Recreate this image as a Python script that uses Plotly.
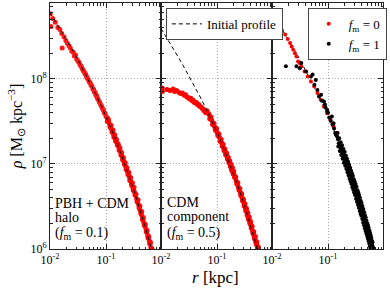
import plotly.graph_objects as go

# ---------------- data ----------------
# Initial profile (dashed), panels 1 and 3
r_init = [0.01, 0.0126, 0.0158, 0.02, 0.0251, 0.0316, 0.0398, 0.0501, 0.0631, 0.0794,
          0.1, 0.126, 0.158, 0.2, 0.251, 0.316, 0.398, 0.501, 0.631, 0.708, 0.8]
rho_init = [6.0e8, 4.69e8, 3.65e8, 2.82e8, 2.17e8, 1.66e8, 1.25e8, 9.4e7, 6.93e7, 5.04e7,
            3.61e7, 2.52e7, 1.73e7, 1.16e7, 7.55e6, 4.80e6, 2.97e6, 1.79e6, 1.05e6, 8.0e5, 6.0e5]
# Initial profile of the CDM component (panel 2)
rho_init_cdm = [3.9e8, 3.05e8, 2.37e8, 1.83e8, 1.41e8, 1.08e8, 8.1e7, 6.1e7, 4.5e7, 3.28e7,
                2.35e7, 1.64e7, 1.12e7, 7.5e6, 4.9e6, 3.12e6, 1.93e6, 1.16e6, 6.8e5, 5.2e5, 3.9e5]

# Panel 1: PBH + CDM halo (f_m = 0.1)
r_p1_a = [0.0101, 0.0104, 0.0112, 0.0124, 0.0138, 0.015, 0.0162, 0.0165, 0.0178, 0.0192,
          0.0205, 0.0218, 0.023, 0.0245, 0.026, 0.0272, 0.0285, 0.03, 0.0315, 0.033,
          0.0345, 0.036, 0.0375, 0.039, 0.0405, 0.042, 0.0435, 0.045, 0.0465, 0.048,
          0.05, 0.052, 0.054, 0.056, 0.058, 0.06, 0.062, 0.064, 0.066, 0.068,
          0.07, 0.072, 0.075, 0.078, 0.081, 0.084, 0.087, 0.09, 0.093, 0.096,
          0.1, 0.104, 0.108, 0.112, 0.116, 0.12, 0.125, 0.13, 0.135, 0.14,
          0.145, 0.15, 0.156, 0.162, 0.168, 0.174, 0.18, 0.187, 0.194, 0.2,
          0.208, 0.216, 0.224, 0.232, 0.24, 0.25, 0.26, 0.27, 0.28, 0.29,
          0.3, 0.31, 0.32, 0.335, 0.35, 0.365, 0.38, 0.395, 0.41, 0.425,
          0.44, 0.455, 0.47, 0.49, 0.51, 0.53, 0.55, 0.57, 0.59, 0.61, 0.63, 0.65]
rho_p1_a = [5.8e8, 4.1e8, 5.1e8, 4.6e8, 4.0e8, 3.8e8, 3.4e8, 2.3e8, 3.1e8, 2.8e8,
            2.6e8, 2.45e8, 2.3e8, 2.1e8, 2.05e8, 1.85e8, 1.9e8, 1.7e8, 1.62e8, 1.55e8,
            1.45e8, 1.4e8, 1.32e8, 1.25e8, 1.22e8, 1.15e8, 1.12e8, 1.05e8, 1.02e8, 9.8e7,
            9.2e7, 9.0e7, 8.4e7, 8.2e7, 7.6e7, 7.5e7, 7.0e7, 6.9e7, 6.4e7, 6.3e7,
            5.9e7, 5.8e7, 5.4e7, 5.2e7, 4.9e7, 4.7e7, 4.4e7, 4.3e7, 4.0e7, 3.9e7,
            3.6e7, 3.5e7, 3.25e7, 3.1e7, 2.9e7, 2.75e7, 2.55e7, 2.4e7, 2.25e7, 2.1e7,
            2.0e7, 1.9e7, 1.78e7, 1.68e7, 1.58e7, 1.48e7, 1.4e7, 1.3e7, 1.22e7, 1.16e7,
            1.07e7, 1.0e7, 9.3e6, 8.7e6, 8.2e6, 7.6e6, 7.0e6, 6.5e6, 6.1e6, 5.7e6,
            5.3e6, 4.95e6, 4.7e6, 4.3e6, 3.9e6, 3.6e6, 3.3e6, 3.0e6, 2.8e6, 2.6e6,
            2.4e6, 2.2e6, 2.05e6, 1.9e6, 1.75e6, 1.6e6, 1.45e6, 1.35e6, 1.25e6, 1.15e6, 1.05e6, 9.8e5]
r_p1_b = [0.105, 0.11, 0.118, 0.123, 0.128, 0.133, 0.138, 0.143, 0.148, 0.153,
          0.159, 0.165, 0.171, 0.177, 0.184, 0.19, 0.197, 0.204, 0.212, 0.22,
          0.228, 0.236, 0.245, 0.255, 0.265, 0.275, 0.285, 0.295, 0.305, 0.315,
          0.328, 0.342, 0.357, 0.372, 0.388, 0.402, 0.418, 0.432, 0.448, 0.462,
          0.48, 0.5, 0.52, 0.54, 0.56, 0.58, 0.6, 0.62, 0.64, 0.66]
rho_p1_b = [3.15e7, 3.35e7, 2.7e7, 2.85e7, 2.35e7, 2.5e7, 2.05e7, 2.2e7, 1.85e7, 1.95e7,
            1.65e7, 1.7e7, 1.45e7, 1.55e7, 1.27e7, 1.35e7, 1.12e7, 1.18e7, 9.9e6, 1.03e7,
            8.6e6, 9.0e6, 7.5e6, 7.9e6, 6.4e6, 6.9e6, 5.6e6, 6.0e6, 4.9e6, 5.3e6,
            4.3e6, 4.4e6, 3.6e6, 3.8e6, 3.05e6, 3.2e6, 2.6e6, 2.75e6, 2.2e6, 2.35e6,
            1.9e6, 1.95e6, 1.6e6, 1.65e6, 1.35e6, 1.4e6, 1.15e6, 1.2e6, 9.9e5, 1.0e6]

# Panel 2: CDM component (f_m = 0.5)
r_p2_a = [0.0105, 0.0106, 0.0128, 0.0145, 0.0165, 0.0175, 0.019, 0.021, 0.0225, 0.024,
          0.026, 0.0275, 0.029, 0.031, 0.0325, 0.034, 0.036, 0.0375, 0.039, 0.041,
          0.043, 0.045, 0.047, 0.049, 0.051, 0.053, 0.055, 0.057, 0.059, 0.061, 0.063,
          0.066, 0.069, 0.072, 0.076, 0.08, 0.085, 0.09, 0.095, 0.1, 0.105,
          0.11, 0.115, 0.12, 0.125, 0.13, 0.135, 0.14, 0.145, 0.15, 0.155,
          0.16, 0.165, 0.17, 0.175, 0.18, 0.185, 0.19, 0.195, 0.2, 0.21,
          0.22, 0.23, 0.24, 0.25, 0.26, 0.27, 0.28, 0.29, 0.3, 0.31,
          0.32, 0.33, 0.34, 0.35, 0.36, 0.37, 0.38, 0.39, 0.4, 0.415,
          0.43, 0.445, 0.46, 0.475, 0.49, 0.505, 0.52, 0.535, 0.55]
rho_p2_a = [7.8e7, 7.1e7, 7.5e7, 7.3e7, 7.6e7, 7.1e7, 7.3e7, 6.9e7, 6.7e7, 6.8e7,
            6.4e7, 6.5e7, 6.1e7, 6.0e7, 5.8e7, 5.9e7, 5.5e7, 5.6e7, 5.3e7, 5.2e7,
            5.25e7, 4.95e7, 5.0e7, 4.75e7, 4.7e7, 4.6e7, 4.45e7, 4.35e7, 4.2e7, 4.15e7, 4.0e7,
            4.2e7, 3.95e7, 3.8e7, 3.5e7, 3.25e7, 2.95e7, 2.75e7, 2.55e7, 2.35e7, 2.2e7,
            2.05e7, 1.9e7, 1.78e7, 1.66e7, 1.56e7, 1.47e7, 1.38e7, 1.3e7, 1.23e7, 1.17e7,
            1.11e7, 1.05e7, 1.0e7, 9.5e6, 9.0e6, 8.6e6, 8.2e6, 7.85e6, 7.5e6, 6.9e6,
            6.3e6, 5.8e6, 5.35e6, 4.95e6, 4.6e6, 4.28e6, 3.97e6, 3.7e6, 3.47e6, 3.25e6,
            3.05e6, 2.87e6, 2.69e6, 2.54e6, 2.39e6, 2.26e6, 2.13e6, 2.02e6, 1.91e6, 1.77e6,
            1.63e6, 1.51e6, 1.4e6, 1.31e6, 1.22e6, 1.14e6, 1.07e6, 1.0e6, 9.4e5]
r_p2_b = [0.074, 0.078, 0.083, 0.088, 0.093, 0.098, 0.103, 0.108, 0.113, 0.118,
          0.123, 0.128, 0.133, 0.138, 0.143, 0.148, 0.153, 0.158, 0.163, 0.168,
          0.173, 0.178, 0.183, 0.188, 0.193, 0.198, 0.205, 0.215, 0.225, 0.235,
          0.245, 0.255, 0.265, 0.275, 0.285, 0.295, 0.305, 0.315, 0.325, 0.335,
          0.345, 0.355, 0.365, 0.375, 0.385, 0.395, 0.408, 0.422, 0.437, 0.452,
          0.467, 0.482, 0.498, 0.512, 0.528, 0.542, 0.56]
rho_p2_b = [3.4e7, 3.55e7, 2.9e7, 3.0e7, 2.5e7, 2.6e7, 2.15e7, 2.25e7, 1.85e7, 1.95e7,
            1.62e7, 1.7e7, 1.44e7, 1.5e7, 1.27e7, 1.34e7, 1.14e7, 1.2e7, 1.03e7, 1.09e7,
            9.3e6, 9.9e6, 8.4e6, 9.0e6, 7.65e6, 8.2e6, 6.95e6, 7.0e6, 5.8e6, 6.0e6,
            4.95e6, 5.1e6, 4.25e6, 4.45e6, 3.7e6, 3.85e6, 3.2e6, 3.4e6, 2.82e6, 3.0e6,
            2.5e6, 2.65e6, 2.22e6, 2.38e6, 2.0e6, 2.1e6, 1.75e6, 1.85e6, 1.52e6, 1.6e6,
            1.32e6, 1.4e6, 1.15e6, 1.22e6, 1.0e6, 1.06e6, 8.9e5]

# Panel 3: f_m = 0 (red) and f_m = 1 (black)
r_p3_red = [0.0113, 0.0141, 0.0151, 0.0172, 0.0191, 0.021, 0.0224, 0.0239, 0.0256, 0.0273,
            0.0292, 0.0312, 0.0333, 0.038, 0.0435, 0.0495, 0.0566, 0.0646, 0.0738, 0.0843,
            0.0962, 0.1097, 0.1253, 0.143, 0.163, 0.17, 0.18, 0.19, 0.2, 0.22,
            0.24, 0.26, 0.28, 0.3, 0.32, 0.34, 0.36, 0.38, 0.4, 0.43,
            0.46, 0.49, 0.52, 0.55, 0.58, 0.61, 0.64]
rho_p3_red = [4.85e8, 3.84e8, 3.7e8, 3.3e8, 2.93e8, 2.63e8, 2.4e8, 2.19e8, 2.0e8, 1.83e8,
              1.6e8, 1.53e8, 1.4e8, 1.22e8, 1.06e8, 9.3e7, 8.1e7, 6.8e7, 5.66e7, 4.72e7,
              3.94e7, 3.3e7, 2.75e7, 2.3e7, 1.75e7, 1.5e7, 1.38e7, 1.25e7, 1.14e7, 9.6e6,
              8.1e6, 7.0e6, 6.1e6, 5.3e6, 4.7e6, 4.1e6, 3.65e6, 3.25e6, 2.9e6, 2.5e6,
              2.15e6, 1.85e6, 1.62e6, 1.43e6, 1.27e6, 1.13e6, 1.0e6]
r_p3_blk_upper = [0.0177, 0.0273, 0.0313, 0.0333, 0.0406, 0.0495, 0.053, 0.057, 0.0605, 0.0646,
                  0.069, 0.075, 0.078, 0.0843, 0.088, 0.09, 0.0962, 0.1, 0.105, 0.112,
                  0.117, 0.12, 0.1253, 0.128, 0.134, 0.138, 0.145]
rho_p3_blk_upper = [1.4e8, 1.4e8, 1.33e8, 1.53e8, 1.22e8, 1.06e8, 1.12e8, 8.5e7, 9.7e7, 7.4e7,
                    6.2e7, 6.5e7, 5.5e7, 5.4e7, 5.0e7, 4.6e7, 4.3e7, 4.0e7, 3.5e7, 3.2e7,
                    3.6e7, 2.9e7, 3.0e7, 2.6e7, 2.3e7, 2.2e7, 2.1e7]
r_p3_blk_mid = [0.15, 0.155, 0.16, 0.165, 0.17, 0.175, 0.18, 0.185, 0.19, 0.195,
                0.2, 0.21, 0.22, 0.23, 0.24, 0.25, 0.26, 0.27, 0.28, 0.29,
                0.3, 0.31, 0.32, 0.33, 0.34, 0.35, 0.36, 0.37, 0.38, 0.39,
                0.4, 0.415, 0.43, 0.445, 0.46, 0.475, 0.49, 0.505, 0.52, 0.535,
                0.55, 0.565, 0.58, 0.595, 0.61, 0.625, 0.64]
rho_p3_blk_mid = [1.95e7, 1.75e7, 1.72e7, 1.6e7, 1.5e7, 1.48e7, 1.36e7, 1.33e7, 1.25e7, 1.22e7,
                  1.12e7, 1.05e7, 9.8e6, 8.8e6, 8.3e6, 7.5e6, 7.1e6, 6.5e6, 6.2e6, 5.6e6,
                  5.4e6, 4.9e6, 4.7e6, 4.35e6, 4.1e6, 3.9e6, 3.65e6, 3.45e6, 3.25e6, 3.1e6,
                  2.9e6, 2.75e6, 2.5e6, 2.35e6, 2.15e6, 2.0e6, 1.9e6, 1.75e6, 1.65e6, 1.55e6,
                  1.45e6, 1.35e6, 1.28e6, 1.2e6, 1.13e6, 1.07e6, 1.02e6]
r_p3_blk_hi = [0.148, 0.158, 0.168, 0.178, 0.188, 0.198, 0.208, 0.218, 0.228, 0.238,
               0.248, 0.258, 0.268, 0.278, 0.288, 0.298, 0.31, 0.322, 0.334, 0.346,
               0.358, 0.37, 0.382, 0.395, 0.41, 0.425, 0.44, 0.455, 0.47, 0.485,
               0.5, 0.515, 0.53, 0.545, 0.56, 0.575, 0.59, 0.605, 0.62]
rho_p3_blk_hi = [2.3e7, 2.0e7, 1.8e7, 1.65e7, 1.5e7, 1.38e7, 1.25e7, 1.15e7, 1.06e7, 9.8e6,
                 9.0e6, 8.3e6, 7.7e6, 7.2e6, 6.6e6, 6.2e6, 5.8e6, 5.4e6, 4.9e6, 4.6e6,
                 4.3e6, 4.0e6, 3.7e6, 3.5e6, 3.2e6, 2.95e6, 2.7e6, 2.5e6, 2.35e6, 2.15e6,
                 2.0e6, 1.9e6, 1.78e6, 1.65e6, 1.55e6, 1.45e6, 1.36e6, 1.25e6, 1.2e6]
r_p3_blk_lo = [0.152, 0.162, 0.172, 0.182, 0.192, 0.202, 0.212, 0.222, 0.232, 0.242,
               0.252, 0.262, 0.272, 0.282, 0.292, 0.302, 0.315, 0.328, 0.341, 0.354,
               0.367, 0.38, 0.393, 0.408, 0.423, 0.438, 0.453, 0.468, 0.483, 0.498,
               0.513, 0.528, 0.543, 0.558, 0.573, 0.59]
rho_p3_blk_lo = [1.6e7, 1.42e7, 1.27e7, 1.15e7, 1.03e7, 9.5e6, 8.7e6, 8.0e6, 7.3e6, 6.7e6,
                 6.2e6, 5.8e6, 5.3e6, 4.95e6, 4.6e6, 4.3e6, 3.9e6, 3.6e6, 3.3e6, 3.05e6,
                 2.8e6, 2.6e6, 2.45e6, 2.25e6, 2.05e6, 1.9e6, 1.75e6, 1.63e6, 1.52e6, 1.42e6,
                 1.33e6, 1.24e6, 1.16e6, 1.08e6, 1.02e6, 9.6e5]

panel_text_1 = ["PBH + CDM", "halo", "(<i>f</i><sub>m</sub> = 0.1)"]
panel_text_2 = ["CDM", "component", "(<i>f</i><sub>m</sub> = 0.5)"]
x_ticks = [0.01, 0.1]
x_ticktext = ["10<sup>-2</sup>", "10<sup>-1</sup>"]
y_ticks = [1e6, 1e7, 1e8]
y_ticktext = ["10<sup>6</sup>", "10<sup>7</sup>", "10<sup>8</sup>"]

# ---------------- figure ----------------
FONT = "Liberation Serif, Times New Roman, serif"
RED = "#ff0000"
fig = go.Figure()

def scat(x, y, xa, ya, color, size, name=None, legend=None, show=False, opacity=1.0):
    fig.add_trace(go.Scatter(x=x, y=y, xaxis=xa, yaxis=ya, mode="markers",
                             marker=dict(color=color, size=size, line=dict(width=0)),
                             opacity=opacity, name=name, showlegend=show,
                             legend=legend))

def dashed(x, y, xa, ya, show=False):
    fig.add_trace(go.Scatter(x=x, y=y, xaxis=xa, yaxis=ya, mode="lines",
                             line=dict(color="black", width=1, dash="4px,3px"),
                             name="Initial profile", showlegend=show, legend="legend"))

# panel 1
scat(r_p1_a, rho_p1_a, "x", "y", RED, 5, opacity=0.9)
scat(r_p1_b, rho_p1_b, "x", "y", RED, 5, opacity=0.9)
dashed(r_init, rho_init, "x", "y")
# panel 2
scat(r_p2_a, rho_p2_a, "x2", "y2", RED, 5)
scat(r_p2_b, rho_p2_b, "x2", "y2", RED, 5)
dashed(r_init, rho_init_cdm, "x2", "y2", show=True)
# panel 3
dashed(r_init, rho_init, "x3", "y3")
scat(r_p3_red, rho_p3_red, "x3", "y3", RED, 4, name="<i>f</i><sub>m</sub> = 0",
     legend="legend2", show=True)
scat(r_p3_blk_upper + r_p3_blk_mid + r_p3_blk_hi + r_p3_blk_lo,
     rho_p3_blk_upper + rho_p3_blk_mid + rho_p3_blk_hi + rho_p3_blk_lo,
     "x3", "y3", "black", 4, name="<i>f</i><sub>m</sub> = 1", legend="legend2", show=True)

AX = "#222222"
tickfont = dict(family=FONT, size=12, color="black")
W = 1.0 / 3.0
doms = [[0, W], [W, 2 * W], [2 * W, 1]]
for i, d in enumerate(doms):
    sfx = "" if i == 0 else str(i + 1)
    fig.layout["xaxis" + sfx] = dict(
        domain=d, anchor="y" + sfx, type="log", range=[-2, -0.02],
        tickvals=x_ticks, ticktext=x_ticktext, tickfont=tickfont,
        ticks="inside", ticklen=5, tickcolor=AX, showline=True, linecolor=AX,
        linewidth=1, mirror="allticks", showgrid=True, gridcolor="#a8a8a8",
        griddash="1px,2px", gridwidth=1, zeroline=False,
        minor=dict(ticks="inside", ticklen=2.5, tickcolor=AX, dtick="D1", showgrid=False),
    )
    fig.layout["yaxis" + sfx] = dict(
        domain=[0, 1], anchor="x" + sfx, type="log", range=[6, 8.89],
        matches=None if i == 0 else "y",
        tickvals=y_ticks, ticktext=y_ticktext, tickfont=tickfont,
        showticklabels=(i == 0),
        ticks="inside", ticklen=5, tickcolor=AX, showline=True, linecolor=AX,
        linewidth=1, mirror="allticks", showgrid=True, gridcolor="#a8a8a8",
        griddash="1px,2px", gridwidth=1, zeroline=False,
        minor=dict(ticks="inside", ticklen=2.5, tickcolor=AX, dtick="D1", showgrid=False),
    )

ann_font = dict(family=FONT, size=14, color="black")
ys = [0.185, 0.128, 0.062]
for t, yy in zip(panel_text_1, ys):
    fig.add_annotation(text=t, xref="x domain", yref="y domain", x=0.03, y=yy,
                       xanchor="left", yanchor="middle", showarrow=False, font=ann_font)
ys2 = [0.189, 0.132, 0.062]
for t, yy in zip(panel_text_2, ys2):
    fig.add_annotation(text=t, xref="x2 domain", yref="y2 domain", x=0.04, y=yy,
                       xanchor="left", yanchor="middle", showarrow=False, font=ann_font)

fig.add_annotation(text="<i>ρ</i> [M<sub>⊙</sub> kpc<sup>−3</sup>]", xref="paper", yref="paper",
                   x=-0.101, y=0.5, textangle=-90, showarrow=False,
                   xanchor="center", yanchor="middle",
                   font=dict(family=FONT, size=16, color="black"))
fig.add_annotation(text="<i>r</i> [kpc]", xref="paper", yref="paper",
                   x=0.497, y=-0.114, showarrow=False, xanchor="center", yanchor="middle",
                   font=dict(family=FONT, size=17, color="black"))

fig.update_layout(
    width=390, height=293,
    margin=dict(l=50, r=4, t=3, b=44),
    paper_bgcolor="white", plot_bgcolor="white",
    font=dict(family=FONT, size=12, color="black"),
    legend=dict(x=0.348, y=0.98, xanchor="left", yanchor="top",
                bordercolor="#444", borderwidth=1, bgcolor="white",
                font=dict(family=FONT, size=13), itemwidth=30,
                tracegroupgap=0),
    legend2=dict(x=0.774, y=0.98, xanchor="left", yanchor="top",
                 bordercolor="#444", borderwidth=1, bgcolor="white",
                 font=dict(family=FONT, size=13), itemwidth=30,
                 tracegroupgap=0),
)

fig.write_html("out.html", config={"displayModeBar": False},
               post_script="document.body.style.margin='0px';")
